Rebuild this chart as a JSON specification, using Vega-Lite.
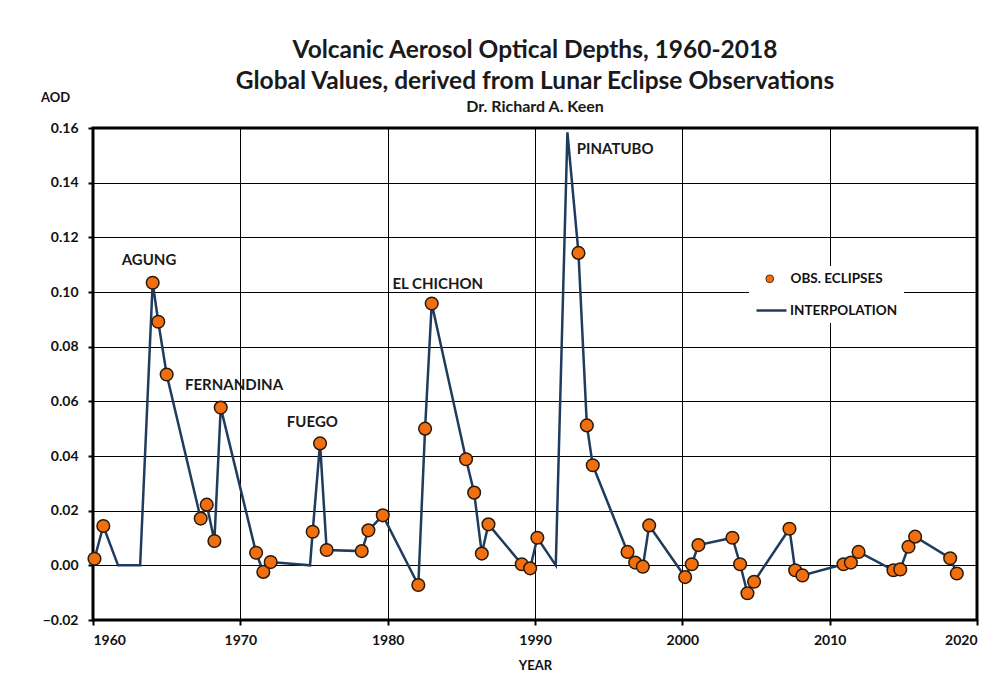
{
  "$schema": "https://vega.github.io/schema/vega-lite/v6.json",
  "autosize": {"type": "none"},
  "width": 884,
  "height": 492,
  "padding": {"left": 93, "top": 128, "right": 18, "bottom": 67},
  "background": "white",
  "config": {
    "font": "Lato",
    "view": {"stroke": "black", "strokeWidth": 3},
    "axis": {
      "gridColor": "black", "gridWidth": 1, "gridOpacity": 1,
      "domain": false, "tickColor": "black", "tickSize": 5, "tickWidth": 2,
      "labelFont": "Lato", "labelFontWeight": "bold", "labelFontSize": 14, "labelColor": "#111",
      "titleFont": "Lato", "titleFontWeight": "bold", "titleFontSize": 13, "titleColor": "#111"
    },
    "legend": {"labelFont": "Lato", "labelFontWeight": "bold", "labelFontSize": 13.5, "labelColor": "#111"}
  },
  "title": {
    "text": ["Volcanic Aerosol Optical Depths, 1960-2018", "Global Values, derived from Lunar Eclipse Observations"],
    "subtitle": "Dr. Richard A. Keen",
    "anchor": "middle",
    "font": "Lato", "fontSize": 24.5, "fontWeight": "bold", "color": "#1a1a1a", "lineHeight": 31,
    "subtitleFont": "Lato", "subtitleFontSize": 16, "subtitleFontWeight": "bold", "subtitleColor": "#1a1a1a", "subtitlePadding": 5,
    "offset": -25
  },
  "datasets": {
    "obs": [
      {"year": 1960.1, "aod": 0.0024}, {"year": 1960.7, "aod": 0.0144},
      {"year": 1964.05, "aod": 0.1034}, {"year": 1964.43, "aod": 0.0891}, {"year": 1965.0, "aod": 0.0698},
      {"year": 1967.31, "aod": 0.0171}, {"year": 1967.72, "aod": 0.0222}, {"year": 1968.24, "aod": 0.0089},
      {"year": 1968.67, "aod": 0.0577}, {"year": 1971.07, "aod": 0.0046}, {"year": 1971.56, "aod": -0.0024},
      {"year": 1972.06, "aod": 0.0012}, {"year": 1974.91, "aod": 0.0123}, {"year": 1975.41, "aod": 0.0446},
      {"year": 1975.86, "aod": 0.0056}, {"year": 1978.24, "aod": 0.0052}, {"year": 1978.69, "aod": 0.0128},
      {"year": 1979.67, "aod": 0.0183}, {"year": 1982.08, "aod": -0.0072}, {"year": 1982.54, "aod": 0.050},
      {"year": 1982.99, "aod": 0.0958}, {"year": 1985.32, "aod": 0.0388}, {"year": 1985.87, "aod": 0.0266},
      {"year": 1986.39, "aod": 0.0043}, {"year": 1986.84, "aod": 0.015}, {"year": 1989.10, "aod": 0.0004},
      {"year": 1989.67, "aod": -0.0011}, {"year": 1990.16, "aod": 0.0101}, {"year": 1992.95, "aod": 0.1143},
      {"year": 1993.52, "aod": 0.0512}, {"year": 1993.92, "aod": 0.0366}, {"year": 1996.28, "aod": 0.0049},
      {"year": 1996.80, "aod": 0.001}, {"year": 1997.32, "aod": -0.0005}, {"year": 1997.75, "aod": 0.0146},
      {"year": 2000.19, "aod": -0.0043}, {"year": 2000.64, "aod": 0.0004}, {"year": 2001.09, "aod": 0.0074},
      {"year": 2003.40, "aod": 0.0101}, {"year": 2003.92, "aod": 0.0004}, {"year": 2004.42, "aod": -0.0102},
      {"year": 2004.87, "aod": -0.006}, {"year": 2007.27, "aod": 0.0134}, {"year": 2007.66, "aod": -0.0018},
      {"year": 2008.15, "aod": -0.0037}, {"year": 2010.94, "aod": 0.0004}, {"year": 2011.44, "aod": 0.001},
      {"year": 2011.96, "aod": 0.0049}, {"year": 2014.33, "aod": -0.0018}, {"year": 2014.79, "aod": -0.0015},
      {"year": 2015.35, "aod": 0.0068}, {"year": 2015.80, "aod": 0.0105}, {"year": 2018.18, "aod": 0.0026},
      {"year": 2018.63, "aod": -0.003}
    ],
    "line": [
      {"year": 1960.1, "aod": 0.0024}, {"year": 1960.7, "aod": 0.0144},
      {"year": 1961.7, "aod": 0.0}, {"year": 1963.2, "aod": 0.0},
      {"year": 1964.05, "aod": 0.1034}, {"year": 1964.43, "aod": 0.0891}, {"year": 1965.0, "aod": 0.0698},
      {"year": 1967.31, "aod": 0.0171}, {"year": 1967.72, "aod": 0.0222}, {"year": 1968.24, "aod": 0.0089},
      {"year": 1968.67, "aod": 0.0577}, {"year": 1971.07, "aod": 0.0046}, {"year": 1971.56, "aod": -0.0024},
      {"year": 1972.06, "aod": 0.0012}, {"year": 1974.73, "aod": 0.0}, {"year": 1974.91, "aod": 0.0123},
      {"year": 1975.41, "aod": 0.0446}, {"year": 1975.86, "aod": 0.0056}, {"year": 1978.24, "aod": 0.0052},
      {"year": 1978.69, "aod": 0.0128}, {"year": 1979.67, "aod": 0.0183}, {"year": 1982.08, "aod": -0.0072},
      {"year": 1982.54, "aod": 0.050}, {"year": 1982.99, "aod": 0.0958}, {"year": 1985.32, "aod": 0.0388},
      {"year": 1985.87, "aod": 0.0266}, {"year": 1986.39, "aod": 0.0043}, {"year": 1986.84, "aod": 0.015},
      {"year": 1989.10, "aod": 0.0004}, {"year": 1989.67, "aod": -0.0011}, {"year": 1990.16, "aod": 0.0101},
      {"year": 1991.41, "aod": 0.0}, {"year": 1992.20, "aod": 0.1584}, {"year": 1992.95, "aod": 0.1143},
      {"year": 1993.52, "aod": 0.0512}, {"year": 1993.92, "aod": 0.0366}, {"year": 1996.28, "aod": 0.0049},
      {"year": 1996.80, "aod": 0.001}, {"year": 1997.32, "aod": -0.0005}, {"year": 1997.75, "aod": 0.0146},
      {"year": 2000.19, "aod": -0.0043}, {"year": 2000.64, "aod": 0.0004}, {"year": 2001.09, "aod": 0.0074},
      {"year": 2003.40, "aod": 0.0101}, {"year": 2003.92, "aod": 0.0004}, {"year": 2004.42, "aod": -0.0102},
      {"year": 2004.87, "aod": -0.006}, {"year": 2007.27, "aod": 0.0134}, {"year": 2007.66, "aod": -0.0018},
      {"year": 2008.15, "aod": -0.0037}, {"year": 2010.94, "aod": 0.0004}, {"year": 2011.44, "aod": 0.001},
      {"year": 2011.96, "aod": 0.0049}, {"year": 2014.33, "aod": -0.0018}, {"year": 2014.79, "aod": -0.0015},
      {"year": 2015.35, "aod": 0.0068}, {"year": 2015.80, "aod": 0.0105}, {"year": 2018.18, "aod": 0.0026},
      {"year": 2018.63, "aod": -0.003}
    ],
    "labels": [
      {"name": "AGUNG", "year": 1963.8, "aod": 0.1116},
      {"name": "FERNANDINA", "year": 1969.57, "aod": 0.0659},
      {"name": "FUEGO", "year": 1974.89, "aod": 0.0525},
      {"name": "EL CHICHON", "year": 1983.4, "aod": 0.103},
      {"name": "PINATUBO", "year": 1995.44, "aod": 0.1525}
    ]
  },
  "encoding": {
    "x": {
      "field": "year", "type": "quantitative",
      "scale": {"domain": [1960, 2020], "nice": false, "zero": false},
      "axis": {"title": "YEAR", "values": [1960, 1970, 1980, 1990, 2000, 2010, 2020], "format": "d",
               "labelPadding": 8, "titleY": 45, "titleBaseline": "middle"}
    },
    "y": {
      "field": "aod", "type": "quantitative",
      "scale": {"domain": [-0.02, 0.16], "nice": false, "zero": false},
      "axis": {"title": "AOD", "values": [-0.02, 0, 0.02, 0.04, 0.06, 0.08, 0.1, 0.12, 0.14, 0.16], "format": ".2f",
               "labelPadding": 10, "titleAngle": 0, "titleX": -38, "titleY": -31, "titleAlign": "center", "titleBaseline": "middle"}
    }
  },
  "layer": [
    {
      "data": {"name": "line"},
      "mark": {"type": "line", "strokeWidth": 2.5},
      "encoding": {
        "stroke": {"datum": "INTERPOLATION", "type": "nominal", "scale": {"range": ["#1f3b5e"]},
          "legend": {"title": null, "orient": "none", "legendX": 656, "legendY": 160, "symbolType": "stroke",
                     "symbolSize": 900, "symbolStrokeWidth": 2.5, "labelOffset": 2, "fillColor": "white", "padding": 6}}
      }
    },
    {
      "data": {"name": "obs"},
      "mark": {"type": "point", "filled": true, "size": 160, "stroke": "#2a1a0a", "strokeWidth": 1.5, "opacity": 1},
      "encoding": {
        "fill": {"datum": "OBS. ECLIPSES", "type": "nominal", "scale": {"range": ["#f26f0f"]},
          "legend": {"title": null, "orient": "none", "legendX": 664, "legendY": 138, "symbolType": "circle",
                     "symbolSize": 60, "symbolStrokeColor": "#5a2a0a", "symbolStrokeWidth": 1, "labelOffset": 14, "fillColor": "white", "padding": 6}}
      }
    },
    {
      "data": {"name": "labels"},
      "mark": {"type": "text", "font": "Lato", "fontWeight": "bold", "fontSize": 15, "color": "#1a1a1a", "align": "center", "baseline": "middle"},
      "encoding": {"text": {"field": "name"}}
    }
  ]
}
